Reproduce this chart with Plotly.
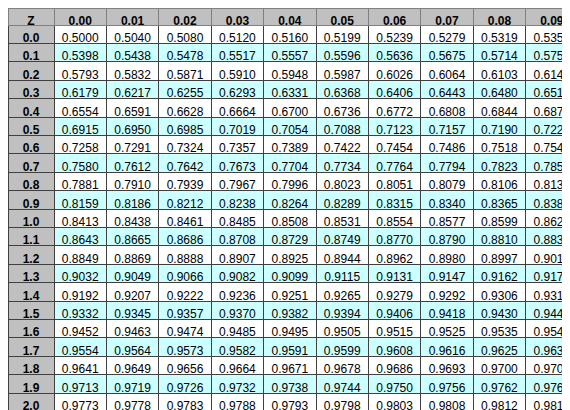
import plotly.graph_objects as go

z_labels = ["0.0","0.1","0.2","0.3","0.4","0.5","0.6","0.7","0.8","0.9","1.0","1.1","1.2","1.3","1.4","1.5","1.6","1.7","1.8","1.9","2.0","2.1"]
headers = ["Z","0.00","0.01","0.02","0.03","0.04","0.05","0.06","0.07","0.08","0.09"]

row_00 = ["0.5000","0.5040","0.5080","0.5120","0.5160","0.5199","0.5239","0.5279","0.5319","0.5359"]
row_01 = ["0.5398","0.5438","0.5478","0.5517","0.5557","0.5596","0.5636","0.5675","0.5714","0.5754"]
row_02 = ["0.5793","0.5832","0.5871","0.5910","0.5948","0.5987","0.6026","0.6064","0.6103","0.6141"]
row_03 = ["0.6179","0.6217","0.6255","0.6293","0.6331","0.6368","0.6406","0.6443","0.6480","0.6517"]
row_04 = ["0.6554","0.6591","0.6628","0.6664","0.6700","0.6736","0.6772","0.6808","0.6844","0.6879"]
row_05 = ["0.6915","0.6950","0.6985","0.7019","0.7054","0.7088","0.7123","0.7157","0.7190","0.7224"]
row_06 = ["0.7258","0.7291","0.7324","0.7357","0.7389","0.7422","0.7454","0.7486","0.7518","0.7549"]
row_07 = ["0.7580","0.7612","0.7642","0.7673","0.7704","0.7734","0.7764","0.7794","0.7823","0.7852"]
row_08 = ["0.7881","0.7910","0.7939","0.7967","0.7996","0.8023","0.8051","0.8079","0.8106","0.8133"]
row_09 = ["0.8159","0.8186","0.8212","0.8238","0.8264","0.8289","0.8315","0.8340","0.8365","0.8389"]
row_10 = ["0.8413","0.8438","0.8461","0.8485","0.8508","0.8531","0.8554","0.8577","0.8599","0.8621"]
row_11 = ["0.8643","0.8665","0.8686","0.8708","0.8729","0.8749","0.8770","0.8790","0.8810","0.8830"]
row_12 = ["0.8849","0.8869","0.8888","0.8907","0.8925","0.8944","0.8962","0.8980","0.8997","0.9015"]
row_13 = ["0.9032","0.9049","0.9066","0.9082","0.9099","0.9115","0.9131","0.9147","0.9162","0.9177"]
row_14 = ["0.9192","0.9207","0.9222","0.9236","0.9251","0.9265","0.9279","0.9292","0.9306","0.9319"]
row_15 = ["0.9332","0.9345","0.9357","0.9370","0.9382","0.9394","0.9406","0.9418","0.9430","0.9441"]
row_16 = ["0.9452","0.9463","0.9474","0.9485","0.9495","0.9505","0.9515","0.9525","0.9535","0.9545"]
row_17 = ["0.9554","0.9564","0.9573","0.9582","0.9591","0.9599","0.9608","0.9616","0.9625","0.9633"]
row_18 = ["0.9641","0.9649","0.9656","0.9664","0.9671","0.9678","0.9686","0.9693","0.9700","0.9706"]
row_19 = ["0.9713","0.9719","0.9726","0.9732","0.9738","0.9744","0.9750","0.9756","0.9762","0.9767"]
row_20 = ["0.9773","0.9778","0.9783","0.9788","0.9793","0.9798","0.9803","0.9808","0.9812","0.9817"]
row_21 = ["0.9821","0.9826","0.9830","0.9834","0.9838","0.9842","0.9846","0.9850","0.9854","0.9857"]

rows = [row_00,row_01,row_02,row_03,row_04,row_05,row_06,row_07,row_08,row_09,row_10,
        row_11,row_12,row_13,row_14,row_15,row_16,row_17,row_18,row_19,row_20,row_21]

columns = [z_labels] + [[r[j] for r in rows] for j in range(10)]
row_colors = ["#ffffff" if i % 2 == 0 else "#ccffff" for i in range(len(rows))]
fill = [["#c0c0c0"] * len(rows)] + [row_colors] * 10
fam = "Liberation Sans, Arial"

fig = go.Figure(go.Table(
    columnwidth=[46] + [52.4] * 10,
    header=dict(values=headers, fill_color="#c0c0c0",
                line=dict(color="#808080", width=1), align="center",
                font=dict(family=fam, size=12, color="#000000", weight="bold"), height=17),
    cells=dict(values=columns,
               fill_color=fill, line=dict(color="#404040", width=1),
               align="center",
               font=dict(family=fam, size=12, color="#000000",
                         weight=["bold"] + ["normal"] * 10),
               height=18.4),
    domain=dict(x=[0, 1], y=[0, 1]),
))
fig.update_layout(width=570, height=410, margin=dict(l=0, r=0, t=0, b=0, pad=0),
                  paper_bgcolor="#d4d4d4", autosize=False)
fig.write_html("out.html")
